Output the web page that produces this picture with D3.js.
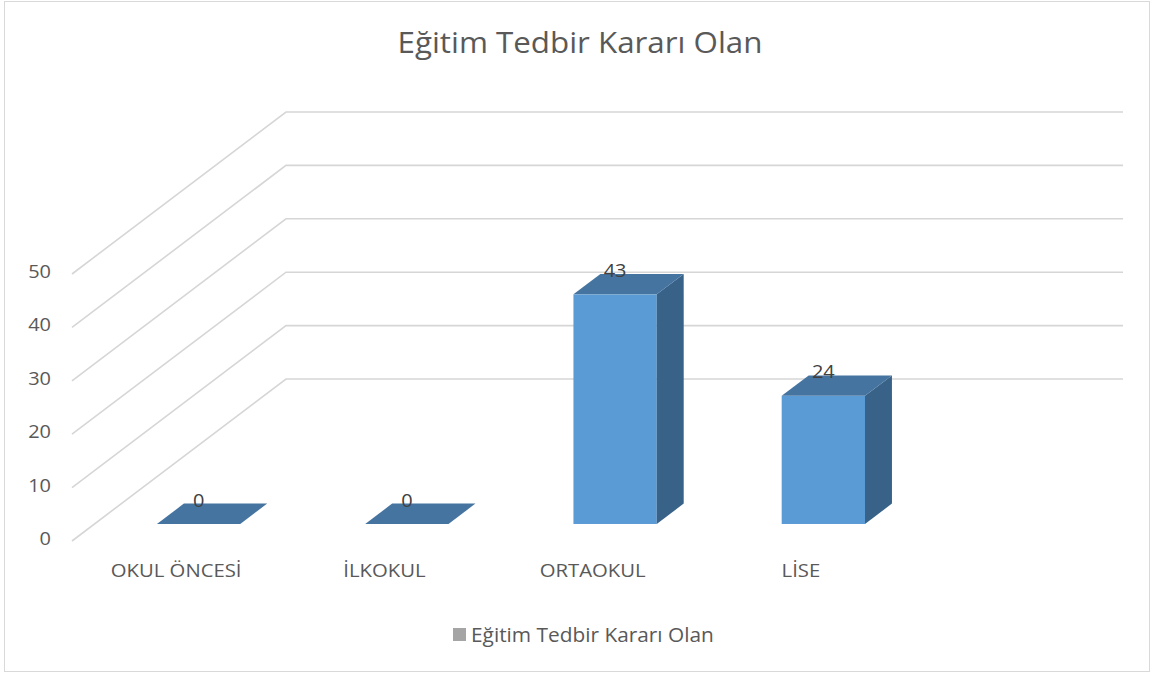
<!DOCTYPE html>
<html>
<head>
<meta charset="utf-8">
<script src="https://cdn.jsdelivr.net/npm/d3@7"></script>
<style>
  body { margin: 0; background: #fff; }
  text { font-family: "Open Sans", sans-serif; fill: #595959; }
</style>
</head>
<body>
<svg id="chart" width="1153" height="675"></svg>
<script>
var categories = ["OKUL ÖNCESİ", "İLKOKUL", "ORTAOKUL", "LİSE"];
var values = [0, 0, 43, 24];
var ticks = [0, 10, 20, 30, 40, 50];
var seriesName = "Eğitim Tedbir Kararı Olan";
var title = "Eğitim Tedbir Kararı Olan";

var svg = d3.select("#chart");
var sx = 1.08; // text is a bit wider than the fonts we have

// oblique 3d depth of the wall
var DX = 214, DY = 162;
var t0 = 0.105, t1 = 0.231;

var x = d3.scaleBand().domain(categories).range([72, 905]);
var y = d3.scaleLinear().domain([0, 50]).range([541, 274]);
var wallRight = 1123;

function stretchText(sel, px, py){
  sel.attr("transform", "translate(" + px + "," + py + ") scale(" + sx + ",1)");
}

// frame
svg.append("rect")
  .attr("x", 4.5).attr("y", 1.5)
  .attr("width", 1145).attr("height", 670)
  .attr("fill", "none").attr("stroke", "#d9d9d9");

// title
svg.append("text")
  .attr("text-anchor", "middle")
  .style("font-size", "29px")
  .text(title)
  .call(stretchText, 580, 53);

// gridlines: diagonal on the side, flat on the back wall
ticks.forEach(function(v){
  var y0 = y(v);
  svg.append("polyline")
    .attr("points", [[72, y0], [72 + DX, y0 - DY], [wallRight, y0 - DY]].join(" "))
    .attr("fill", "none")
    .attr("stroke", "#d6d6d6")
    .attr("stroke-width", 1.6);

  svg.append("text")
    .attr("text-anchor", "end")
    .style("font-size", "18.5px")
    .text(v)
    .call(stretchText, 51, y0 + 4);
});

// bars
var w = x.bandwidth() * 0.4;
var bdx = (t1 - t0) * DX, bdy = (t1 - t0) * DY;

categories.forEach(function(c, i){
  var x0 = x(c) + (x.bandwidth() - w) / 2 + t0 * DX;
  var base = y(0) - t0 * DY;
  var top = y(values[i]) - t0 * DY;
  var g = svg.append("g").attr("class", "bar");

  if (values[i] > 0) {
    g.append("rect")
      .attr("x", x0).attr("y", top)
      .attr("width", w).attr("height", base - top)
      .attr("fill", "#5b9bd5");
    g.append("polygon")
      .attr("points", [[x0 + w, top], [x0 + w + bdx, top - bdy], [x0 + w + bdx, base - bdy], [x0 + w, base]].join(" "))
      .attr("fill", "#386287");
  }
  g.append("polygon")
    .attr("points", [[x0, top], [x0 + w, top], [x0 + w + bdx, top - bdy], [x0 + bdx, top - bdy]].join(" "))
    .attr("fill", "#4574a0");

  svg.append("text")
    .attr("text-anchor", "middle")
    .style("font-size", "18.5px")
    .style("fill", "#404040")
    .text(values[i])
    .call(stretchText, x0 + w / 2, top - bdy + 3);

  svg.append("text")
    .attr("text-anchor", "middle")
    .style("font-size", "18.8px")
    .text(c)
    .call(stretchText, x(c) + x.bandwidth() / 2, 577);
});

// legend
svg.append("rect")
  .attr("x", 453).attr("y", 628)
  .attr("width", 13).attr("height", 13)
  .attr("fill", "#a5a5a5");
svg.append("text")
  .style("font-size", "19.3px")
  .text(seriesName)
  .call(stretchText, 471, 642);
</script>
</body>
</html>
